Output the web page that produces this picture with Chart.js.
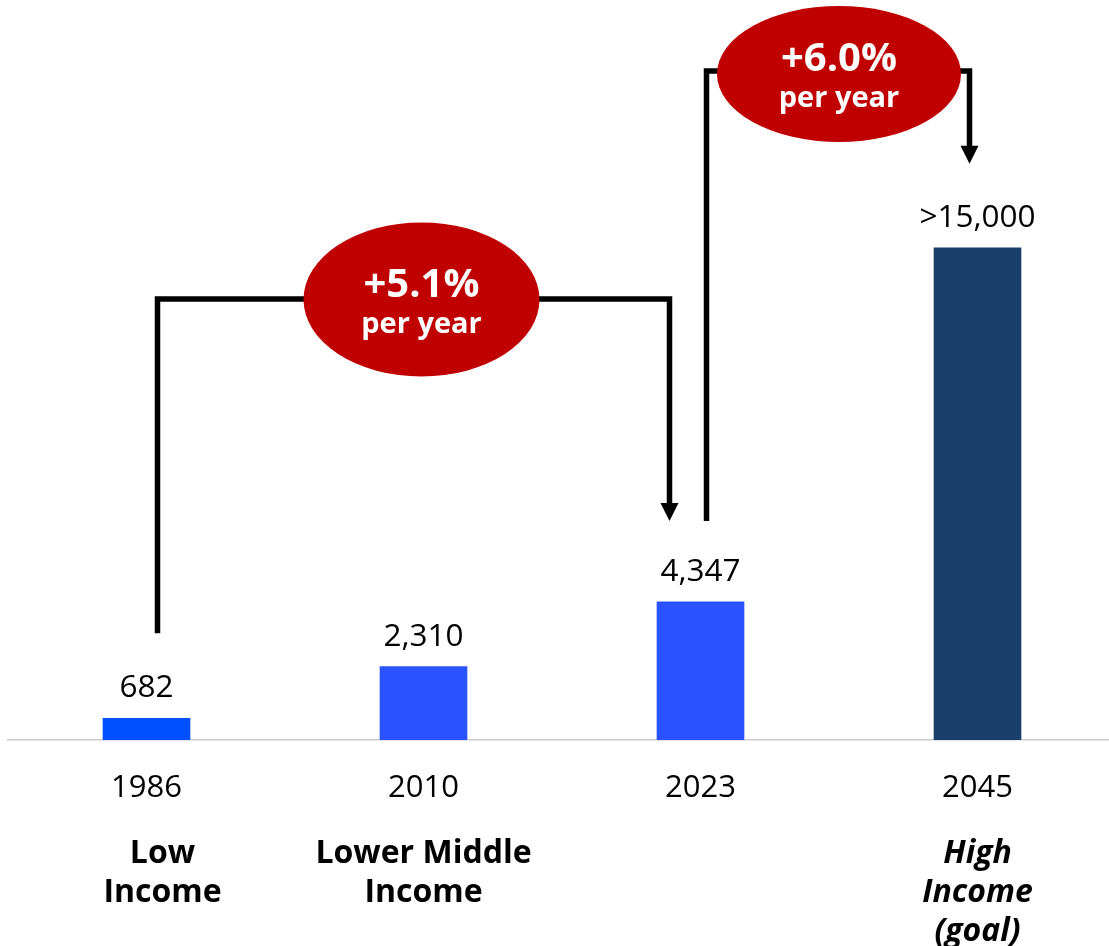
<!DOCTYPE html>
<html lang="en">
<head>
  <meta charset="utf-8" />
  <title>GNI per capita milestones</title>
  <script src="https://cdn.jsdelivr.net/npm/chart.js@4.4.1/dist/chart.umd.min.js"></script>
  <style>
    html, body { margin: 0; padding: 0; background: #fff; overflow: hidden; }
    .wrap { position: relative; width: 1116px; height: 946px; }
  </style>
</head>
<body>
  <div class="wrap"><canvas id="incomeChart"></canvas></div>

  <script>
    // Income per capita at each milestone year
    const years = ['1986', '2010', '2023', '2045'];
    const stages = [['\u2003Low', '\u2003Income'], ['Lower Middle', 'Income'], '', ['High', 'Income', '(goal)']];
    const incomeValues = [682, 2310, 4347, 15500];
    const valueLabels = ['682', '2,310', '4,347', '>15,000'];
    const barColors = ['#0050ff', '#2a52fe', '#2a52fe', '#1a3f6c'];

    // Annual growth between milestones
    const growthLabels = ['+5.1%', '+6.0%'];
    const growthFrom = [0, 2];
    const growthTo = [2, 3];

    const FONT = "'Open Sans', 'Noto Sans', sans-serif";

    // value text above each bar
    const valueLabelPlugin = {
      id: 'valueLabels',
      afterDatasetsDraw(chart) {
        const { ctx } = chart;
        const meta = chart.getDatasetMeta(0);
        ctx.save();
        ctx.font = `31.5px ${FONT}`;
        ctx.fillStyle = '#000';
        ctx.textAlign = 'center';
        ctx.textBaseline = 'alphabetic';
        meta.data.forEach((bar, i) => {
          ctx.fillText(valueLabels[i], bar.x, bar.y - 21);
        });
        ctx.restore();
      }
    };

    // bracket arrows with a red growth-rate bubble on top
    const growthPlugin = {
      id: 'growthBrackets',
      afterDatasetsDraw(chart, args, opts) {
        const { ctx } = chart;
        const meta = chart.getDatasetMeta(0);
        ctx.save();
        opts.items.forEach((it, i) => {
          const from = meta.data[growthFrom[i]];
          const to = meta.data[growthTo[i]];
          const x1 = from.x + it.fromDx;
          const x2 = to.x + it.toDx;
          const startY = from.y - it.fromGap;
          const tipY = to.y - it.toGap;
          const head = 18;

          ctx.strokeStyle = '#000';
          ctx.lineWidth = 5.5;
          ctx.lineJoin = 'miter';
          ctx.lineCap = 'butt';
          ctx.beginPath();
          ctx.moveTo(x1, startY);
          ctx.lineTo(x1, it.lineY);
          ctx.lineTo(x2, it.lineY);
          ctx.lineTo(x2, tipY - head + 1);
          ctx.stroke();

          ctx.fillStyle = '#000';
          ctx.beginPath();
          ctx.moveTo(x2 - head / 2, tipY - head);
          ctx.lineTo(x2 + head / 2, tipY - head);
          ctx.lineTo(x2, tipY);
          ctx.closePath();
          ctx.fill();

          const cx = (x1 + x2) / 2 + it.dx;
          const cy = it.lineY + it.dy;
          ctx.fillStyle = '#c00000';
          ctx.beginPath();
          ctx.ellipse(cx, cy, it.rx, it.ry, 0, 0, Math.PI * 2);
          ctx.fill();

          ctx.fillStyle = '#fff';
          ctx.textAlign = 'center';
          ctx.textBaseline = 'alphabetic';
          ctx.font = `bold 40px ${FONT}`;
          ctx.fillText(growthLabels[i], cx, cy - 3);
          ctx.font = `bold 29px ${FONT}`;
          ctx.fillText('per year', cx, cy + 33);
        });
        ctx.restore();
      }
    };

    new Chart(document.getElementById('incomeChart'), {
      type: 'bar',
      data: {
        labels: years,
        datasets: [{
          data: incomeValues,
          backgroundColor: barColors,
          borderWidth: 0,
          barThickness: 87
        }]
      },
      options: {
        responsive: true,
        maintainAspectRatio: false,
        animation: false,
        layout: { padding: { left: 8, right: 0, top: 0, bottom: 0 } },
        plugins: {
          legend: { display: false },
          tooltip: { enabled: false },
          growthBrackets: {
            items: [
              { fromDx: 11, toDx: -31, fromGap: 85, toGap: 81, lineY: 299, dx: 8, dy: 0.5, rx: 118, ry: 77 },
              { fromDx: 6, toDx: -8, fromGap: 81, toGap: 84, lineY: 71, dx: 1, dy: 3, rx: 122, ry: 68 }
            ]
          }
        },
        scales: {
          y: { display: false, min: 0, max: 23300 },
          x: {
            weight: 0,
            grid: { display: false, drawTicks: false },
            border: { display: true, color: '#cccccc', width: 1.5 },
            ticks: {
              color: '#000',
              padding: 30,
              font: { family: FONT, size: 31 }
            },
            afterFit(scale) { scale.height = 65; }
          },
          x2: {
            type: 'category',
            position: 'bottom',
            weight: 1,
            offset: true,
            labels: stages,
            grid: { display: false, drawTicks: false },
            border: { display: false },
            ticks: {
              color: '#000',
              padding: 29,
              autoSkip: false,
              maxRotation: 0,
              font: (c) => ({
                family: FONT, size: 32, weight: 'bold',
                style: c.index === 3 ? 'italic' : 'normal',
                lineHeight: '39px'
              })
            },
            afterFit(scale) { scale.height = 141; }
          }
        }
      },
      plugins: [valueLabelPlugin, growthPlugin]
    });
  </script>
</body>
</html>
